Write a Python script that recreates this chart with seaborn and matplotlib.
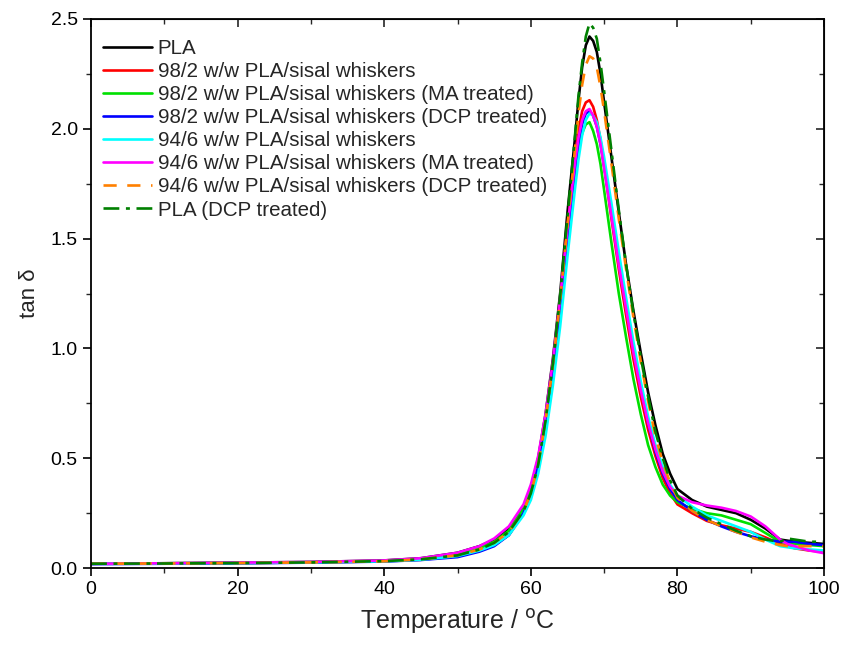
import matplotlib
matplotlib.use("Agg")
import matplotlib.pyplot as plt
import seaborn as sns
import pandas as pd
from matplotlib.ticker import MultipleLocator, FormatStrFormatter

temperature = [0, 10, 20, 30, 40, 45, 50, 53, 55, 57, 59, 60, 61, 62, 63, 64, 65, 66, 66.5, 67, 67.5, 68,
               68.5, 69, 69.5, 70, 71, 72, 73, 74, 75, 76, 77, 78, 79, 80, 82, 84, 86, 88, 90, 92, 94, 95,
               96, 98, 100]

pla = [0.020, 0.022, 0.025, 0.028, 0.035, 0.045, 0.070, 0.100, 0.130, 0.180, 0.280, 0.360, 0.500, 0.700,
       0.950, 1.250, 1.620, 1.950, 2.130, 2.280, 2.380, 2.420, 2.400, 2.350, 2.250, 2.120, 1.870, 1.620,
       1.380, 1.170, 0.980, 0.800, 0.650, 0.520, 0.430, 0.360, 0.310, 0.280, 0.265, 0.250, 0.220, 0.180,
       0.130, 0.125, 0.120, 0.115, 0.110]
w98 = [0.020, 0.021, 0.023, 0.026, 0.031, 0.038, 0.055, 0.080, 0.105, 0.150, 0.250, 0.330, 0.460, 0.660,
       0.910, 1.210, 1.550, 1.860, 1.990, 2.080, 2.120, 2.130, 2.100, 2.040, 1.950, 1.830, 1.590, 1.360,
       1.150, 0.950, 0.780, 0.630, 0.510, 0.410, 0.340, 0.290, 0.250, 0.215, 0.195, 0.180, 0.165, 0.140,
       0.110, 0.100, 0.090, 0.080, 0.075]
w98_ma = [0.020, 0.022, 0.024, 0.027, 0.033, 0.042, 0.062, 0.090, 0.120, 0.170, 0.270, 0.350, 0.480, 0.670,
          0.900, 1.180, 1.500, 1.780, 1.900, 1.980, 2.020, 2.030, 1.990, 1.930, 1.840, 1.720, 1.480, 1.250,
          1.050, 0.860, 0.700, 0.560, 0.460, 0.380, 0.330, 0.300, 0.270, 0.250, 0.240, 0.220, 0.200, 0.160,
          0.120, 0.115, 0.110, 0.105, 0.100]
w98_dcp = [0.018, 0.020, 0.022, 0.025, 0.030, 0.037, 0.050, 0.075, 0.100, 0.150, 0.250, 0.330, 0.460, 0.650,
           0.890, 1.180, 1.500, 1.800, 1.930, 2.020, 2.070, 2.080, 2.060, 2.010, 1.930, 1.830, 1.620, 1.400,
           1.200, 1.000, 0.820, 0.660, 0.530, 0.430, 0.360, 0.310, 0.260, 0.220, 0.190, 0.165, 0.145, 0.130,
           0.120, 0.120, 0.120, 0.110, 0.105]
w94 = [0.020, 0.021, 0.023, 0.026, 0.031, 0.038, 0.055, 0.080, 0.105, 0.150, 0.240, 0.310, 0.430, 0.600,
       0.830, 1.100, 1.420, 1.720, 1.860, 1.970, 2.040, 2.070, 2.060, 2.030, 1.960, 1.870, 1.660, 1.440,
       1.230, 1.030, 0.850, 0.690, 0.560, 0.460, 0.380, 0.330, 0.280, 0.240, 0.215, 0.190, 0.165, 0.130,
       0.100, 0.095, 0.090, 0.085, 0.080]
w94_ma = [0.020, 0.022, 0.025, 0.028, 0.035, 0.045, 0.070, 0.100, 0.135, 0.190, 0.290, 0.380, 0.510, 0.700,
          0.940, 1.230, 1.550, 1.840, 1.960, 2.040, 2.080, 2.090, 2.060, 2.010, 1.930, 1.820, 1.600, 1.380,
          1.180, 0.980, 0.810, 0.660, 0.540, 0.440, 0.370, 0.330, 0.300, 0.285, 0.275, 0.260, 0.235, 0.190,
          0.130, 0.110, 0.100, 0.080, 0.068]
w94_dcp = [0.020, 0.021, 0.023, 0.026, 0.031, 0.040, 0.058, 0.085, 0.115, 0.165, 0.260, 0.340, 0.470, 0.670,
           0.920, 1.220, 1.560, 1.900, 2.070, 2.200, 2.290, 2.330, 2.320, 2.280, 2.190, 2.080, 1.840, 1.590,
           1.360, 1.140, 0.940, 0.760, 0.600, 0.480, 0.390, 0.320, 0.260, 0.220, 0.190, 0.165, 0.140, 0.120,
           0.105, 0.100, 0.100, 0.100, 0.100]
pla_dcp = [0.020, 0.021, 0.023, 0.026, 0.032, 0.040, 0.058, 0.085, 0.115, 0.165, 0.260, 0.340, 0.470, 0.670,
           0.930, 1.240, 1.600, 1.960, 2.150, 2.300, 2.420, 2.480, 2.460, 2.410, 2.300, 2.170, 1.900, 1.630,
           1.380, 1.160, 0.960, 0.780, 0.620, 0.500, 0.400, 0.330, 0.270, 0.230, 0.200, 0.170, 0.145, 0.130,
           0.120, 0.135, 0.130, 0.120, 0.120]

labels = ["PLA",
          "98/2 w/w PLA/sisal whiskers",
          "98/2 w/w PLA/sisal whiskers (MA treated)",
          "98/2 w/w PLA/sisal whiskers (DCP treated)",
          "94/6 w/w PLA/sisal whiskers",
          "94/6 w/w PLA/sisal whiskers (MA treated)",
          "94/6 w/w PLA/sisal whiskers (DCP treated)",
          "PLA (DCP treated)"]
series = [pla, w98, w98_ma, w98_dcp, w94, w94_ma, w94_dcp, pla_dcp]
colors = ["#000000", "#FF0000", "#00E000", "#0000FF", "#00FFFF", "#FF00FF", "#FF8000", "#008000"]
styles = ["-", "-", "-", "-", "-", "-", (0, (5, 4)), (0, (6, 2.5, 1.5, 2.5))]

sns.set_style("ticks")
plt.rcParams['font.family'] = ['Liberation Sans', 'DejaVu Sans']

fig = plt.figure(figsize=(8.43, 6.53), dpi=100)
ax = fig.add_axes([0.108, 0.130, 0.8695, 0.841])

for lab, vals, c, ls in zip(labels, series, colors, styles):
    df = pd.DataFrame({"T": temperature, "v": vals})
    sns.lineplot(data=df, x="T", y="v", ax=ax, color=c, linestyle=ls, linewidth=1.9, label=lab)

ax.set_xlim(0, 100)
ax.set_ylim(0, 2.5)
ax.xaxis.set_major_locator(MultipleLocator(20))
ax.xaxis.set_minor_locator(MultipleLocator(10))
ax.yaxis.set_major_locator(MultipleLocator(0.5))
ax.yaxis.set_minor_locator(MultipleLocator(0.25))
ax.yaxis.set_major_formatter(FormatStrFormatter('%.1f'))
ax.tick_params(which='major', direction='out', length=6, width=1.2, labelsize=14, colors='black')
ax.tick_params(which='minor', direction='out', length=3.5, width=1.0)
for s in ax.spines.values():
    s.set_linewidth(1.3)
    s.set_color('black')

top = ax.secondary_xaxis('top')
top.xaxis.set_major_locator(MultipleLocator(20))
top.xaxis.set_minor_locator(MultipleLocator(10))
top.tick_params(which='major', direction='in', length=6, width=1.2, labeltop=False)
top.tick_params(which='minor', direction='in', length=3.5, width=1.0)
right = ax.secondary_yaxis('right')
right.yaxis.set_major_locator(MultipleLocator(0.5))
right.yaxis.set_minor_locator(MultipleLocator(0.25))
right.tick_params(which='major', direction='in', length=6, width=1.2, labelright=False)
right.tick_params(which='minor', direction='in', length=3.5, width=1.0)

ax.set_xlabel("Temperature / $^\\mathrm{o}$C", fontsize=18, labelpad=6)
ax.set_ylabel("tan \u03b4", fontsize=16, labelpad=8)

ax.legend(loc='upper left', frameon=False, fontsize=14.8, handlelength=2.35,
          labelspacing=0.2, handletextpad=0.3, borderaxespad=0.3, bbox_to_anchor=(-0.003, 0.99))

fig.savefig("out.png", dpi=100)
